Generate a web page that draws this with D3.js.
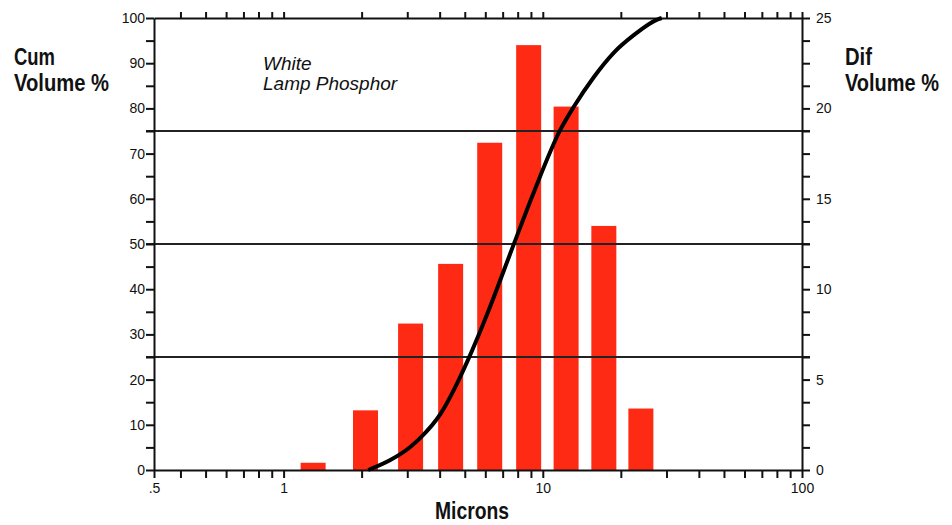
<!DOCTYPE html>
<html>
<head>
<meta charset="utf-8">
<script src="https://cdn.jsdelivr.net/npm/d3@7"></script>
<style>
  body { margin: 0; background: #fff; }
  text { font-family: "Liberation Sans", Arial, sans-serif; fill: #111; }
  .axis path, .axis line { stroke: #111; stroke-width: 2; }
  .axis text { font-size: 14px; font-family: "Liberation Sans", Arial, sans-serif; }
  .title { font-size: 23px; font-weight: bold; }
  .note { font-size: 19px; font-style: italic; }
</style>
</head>
<body>
<div id="chart"></div>
<script>
// particle size channels (microns) and differential volume %
var sizes = [1.3, 2.07, 3.09, 4.41, 6.24, 8.82, 12.3, 17.2, 23.9];
var difVolume = [0.4, 3.3, 8.1, 11.4, 18.1, 23.5, 20.1, 13.5, 3.4];

// cumulative volume % curve
var cumSizes = [2.12, 2.58, 3.08, 3.37, 4.03, 4.60, 5.12, 6.12, 7.71, 9.21, 11.72, 13.15, 15.72, 18.77, 22.43, 27.77, 28.77];
var cumVolume = [0, 2.2, 5.1, 7.1, 12.4, 18.4, 24.1, 34.7, 49.8, 61.3, 75.4, 80.3, 86.9, 92.3, 96.2, 99.7, 100];

// axes
var xMin = Math.pow(10, -0.5); // left end of the log axis, labelled ".5"
var xTicks = [xMin, 0.4, 0.5, 0.6, 0.7, 0.8, 0.9, 1, 2, 3, 4, 5, 6, 7, 8, 9, 10, 20, 30, 40, 50, 60, 70, 80, 90, 100];
var xLabelValues = [xMin, 1, 10, 100];
var xLabels = [".5", "1", "10", "100"];
var leftTicks = [0, 5, 10, 15, 20, 25, 30, 35, 40, 45, 50, 55, 60, 65, 70, 75, 80, 85, 90, 95, 100];
var leftLabels = [0, 10, 20, 30, 40, 50, 60, 70, 80, 90, 100];
var rightTicks = [0, 1.25, 2.5, 3.75, 5, 6.25, 7.5, 8.75, 10, 11.25, 12.5, 13.75, 15, 16.25, 17.5, 18.75, 20, 21.25, 22.5, 23.75, 25];
var rightLabels = [0, 5, 10, 15, 20, 25];
var gridLines = [25, 50, 75];

var W = 952, H = 525;
var margin = { top: 18, right: 150, bottom: 55, left: 154 };
var tick = 8;
var barWidth = 25;

var svg = d3.select("#chart")
    .append("svg")
    .attr("width", W)
    .attr("height", H);

var x = d3.scaleLog()
    .domain([xMin, 100])
    .range([margin.left, W - margin.right]);
var yL = d3.scaleLinear()
    .domain([0, 100])
    .range([H - margin.bottom, margin.top]);
var yR = d3.scaleLinear()
    .domain([0, 25])
    .range([H - margin.bottom, margin.top]);

// bars
svg.append("g")
    .selectAll("rect")
    .data(sizes)
    .enter()
    .append("rect")
    .attr("x", d => x(d) - barWidth / 2)
    .attr("width", barWidth)
    .attr("y", (d, i) => yR(difVolume[i]))
    .attr("height", (d, i) => yR(0) - yR(difVolume[i]))
    .style("fill", "#fe2a14");

// horizontal lines
svg.append("g")
    .selectAll("line")
    .data(gridLines)
    .enter()
    .append("line")
    .attr("x1", x.range()[0] - tick)
    .attr("x2", x.range()[1] + tick)
    .attr("y1", d => yL(d))
    .attr("y2", d => yL(d))
    .style("stroke", "#222")
    .style("stroke-width", 1.8);

// axes
svg.append("g")
    .attr("class", "axis")
    .attr("transform", "translate(0," + yL(0) + ")")
    .call(d3.axisBottom(x).tickValues(xTicks).tickSize(tick).tickSizeOuter(0)
        .tickFormat(d => {
            var i = xLabelValues.indexOf(d);
            return i < 0 ? "" : xLabels[i];
        }))
    .selectAll("text").attr("dy", "0.85em");

svg.append("g")
    .attr("class", "axis")
    .attr("transform", "translate(0," + yL(100) + ")")
    .call(d3.axisTop(x).tickValues(xTicks.slice(1)).tickSize(6).tickSizeOuter(0).tickFormat(""));

svg.append("g")
    .attr("class", "axis")
    .attr("transform", "translate(" + x.range()[0] + ",0)")
    .call(d3.axisLeft(yL).tickValues(leftTicks).tickSize(tick).tickSizeOuter(0)
        .tickFormat(d => leftLabels.indexOf(d) < 0 ? "" : d))
    .selectAll("text").attr("x", -tick - 1);

svg.append("g")
    .attr("class", "axis")
    .attr("transform", "translate(" + x.range()[1] + ",0)")
    .call(d3.axisRight(yR).tickValues(rightTicks).tickSize(tick).tickSizeOuter(0)
        .tickFormat(d => rightLabels.indexOf(d) < 0 ? "" : d))
    .selectAll("text").attr("x", tick + 6);

// cumulative curve
var line = d3.line()
    .x(d => x(d))
    .y((d, i) => yL(cumVolume[i]))
    .curve(d3.curveMonotoneX);

svg.append("path")
    .datum(cumSizes)
    .attr("d", line)
    .style("fill", "none")
    .style("stroke", "#000")
    .style("stroke-width", 4);

// titles, squeezed to the condensed widths of the original
function title(tx, ty, txt, len, anchor) {
    svg.append("text").attr("class", "title")
        .attr("x", tx).attr("y", ty)
        .attr("text-anchor", anchor || "start")
        .attr("textLength", len)
        .attr("lengthAdjust", "spacingAndGlyphs")
        .text(txt);
}
title(14, 65, "Cum", 41);
title(14, 91, "Volume  %", 95);
title(845, 65, "Dif", 27);
title(845, 91, "Volume  %", 94);
title(472, 519, "Microns", 74, "middle");

svg.append("text").attr("class", "note").attr("x", 263).attr("y", 70).text("White");
svg.append("text").attr("class", "note").attr("x", 263).attr("y", 90).text("Lamp Phosphor");
</script>
</body>
</html>
